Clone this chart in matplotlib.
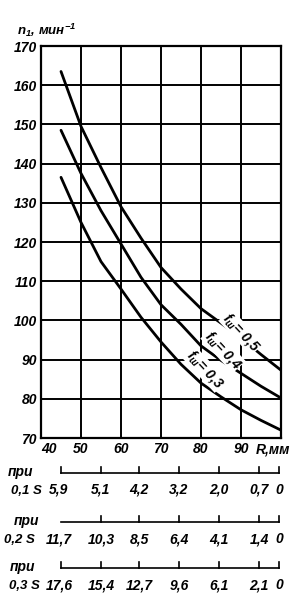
import matplotlib.pyplot as plt
import matplotlib.transforms as mtransforms

plt.rcParams['font.family'] = ['Liberation Sans', 'DejaVu Sans']
plt.rcParams['font.style'] = 'italic'
plt.rcParams['font.weight'] = 'bold'
plt.rcParams['mathtext.fontset'] = 'custom'
plt.rcParams['mathtext.it'] = 'Liberation Sans:italic:bold'
plt.rcParams['mathtext.rm'] = 'Liberation Sans:italic:bold'

# Curves: n1 (1/min) vs R (mm)
r_mm = [45, 50, 55, 60, 65, 70, 75, 80, 85, 90, 95, 100]
n_f05 = [163.5, 149.5, 139, 129, 121, 113.5, 108, 103, 99.3, 95.5, 91.3, 87.3]
n_f04 = [148.5, 137.5, 128, 119.5, 111, 104, 99, 93.5, 89.8, 86.5, 83.2, 80.2]
n_f03 = [136.5, 125, 115, 108, 100.8, 94.5, 88.8, 84, 80.5, 77.2, 74.5, 72]
curve_labels = [r'$f_{\mathrm{ш}}$= 0,5', r'$f_{\mathrm{ш}}$= 0,4', r'$f_{\mathrm{ш}}$= 0,3']
label_pos = [(90.0, 97.0), (85.5, 92.5), (81.0, 87.5)]

x_ticks = [40, 50, 60, 70, 80, 90]
y_ticks = [70, 80, 90, 100, 110, 120, 130, 140, 150, 160, 170]

# Auxiliary scales below the chart
scale_r = [45, 55, 64.5, 74.5, 84.5, 94.5, 99.5]
scale_01 = ['5,9', '5,1', '4,2', '3,2', '2,0', '0,7', '0']
scale_02 = ['11,7', '10,3', '8,5', '6,4', '4,1', '1,4', '0']
scale_03 = ['17,6', '15,4', '12,7', '9,6', '6,1', '2,1', '0']
scale_names = ['0,1 S', '0,2 S', '0,3 S']

fig = plt.figure(figsize=(3.02, 6.0), dpi=100)
H = 600.0
W = 302.0
ax = fig.add_axes([41 / W, 1 - 438 / H, 240 / W, 392 / H])

for n in (n_f05, n_f04, n_f03):
    ax.plot(r_mm, n, color='black', lw=2, solid_capstyle='round')

for txt, (x, y) in zip(curve_labels, label_pos):
    ax.text(x, y, txt, rotation=-47, ha='center', va='center', fontsize=10,
            bbox=dict(facecolor='white', edgecolor='none', pad=0.3), zorder=5)

ax.set_xlim(40, 100)
ax.set_ylim(70, 170)
ax.set_xticks(x_ticks + [98])
ax.set_xticklabels([str(t) for t in x_ticks] + ['R,мм'])
ax.set_yticks(y_ticks)
ax.grid(True, color='black', lw=1.4)
ax.xaxis.get_major_ticks()[-1].gridline.set_visible(False)
ax.tick_params(length=0, labelsize=10, pad=3)
ax.get_xticklabels()[0].set_horizontalalignment('left')
for s in ax.spines.values():
    s.set_linewidth(1.6)

fig.text(17 / W, 1 - 35 / H, r'n$_1$, мин$^{-1}$', fontsize=9.5,
         ha='left', va='baseline')

trans = mtransforms.blended_transform_factory(ax.transData, fig.transFigure)
rows = [(473, scale_01, True), (522, scale_02, False), (568, scale_03, True)]
name_x = [(21, 26), (27, 19), (23, 24)]
for i, (yl, labels, first_tick) in enumerate(rows):
    yf = 1 - yl / H
    ax.plot([scale_r[0], scale_r[-1]], [yf, yf], color='black', lw=1.2,
            transform=trans, clip_on=False)
    for j, (r, lab) in enumerate(zip(scale_r, labels)):
        if j > 0 or first_tick:
            ax.plot([r, r], [yf, yf + 6 / H], color='black', lw=1.2,
                    transform=trans, clip_on=False)
        xr = r - 0.5 if j == 0 else r
        ax.text(xr, yf - 17 / H, lab, transform=trans, ha='center',
                va='center', fontsize=10)
    fig.text(name_x[i][0] / W, yf + 1 / H, 'при', ha='center', va='center',
             fontsize=10)
    fig.text(name_x[i][1] / W, yf - 18 / H, scale_names[i], ha='center',
             va='center', fontsize=9.5)

fig.savefig('out.png', dpi=100)
